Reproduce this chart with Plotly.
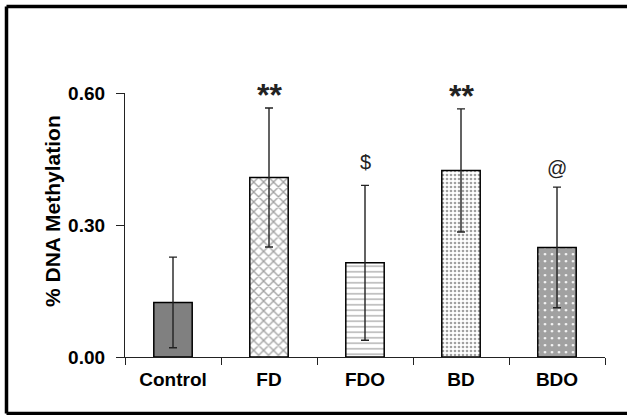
import plotly.graph_objects as go

categories = ["Control", "FD", "FDO", "BD", "BDO"]
means = [0.124, 0.408, 0.214, 0.424, 0.249]
errors = [0.103, 0.158, 0.176, 0.140, 0.137]
marks = ["", "**", "$", "**", "@"]
ytick_vals = [0.0, 0.3, 0.6]
ytick_text = ["0.00", "0.30", "0.60"]
y_title = "% DNA Methylation"

W, H = 627, 415
ML, MR, MT, MB = 125, 22, 93, 58

fig = go.Figure()
fig.add_trace(go.Bar(
    x=categories, y=means, width=0.4,
    error_y=dict(type="data", array=errors, visible=True, color="#222222",
                 thickness=1.4, width=4),
    marker=dict(
        color=["#808080", "white", "white", "white", "white"],
        line=dict(color="black", width=1.5),
        pattern=dict(
            shape=["", "x", "-", ".", "."],
            size=[8, 7, 5.5, 4, 7],
            solidity=[0.2, 0.35, 0.22, 0.35, 0.82],
            fgcolor="black",
            bgcolor=["#808080", "white", "white", "white", "white"],
        ),
    ),
    showlegend=False,
))

mark_style = {"**": dict(size=32, yshift=-7, weight="bold"),
              "$": dict(size=20, yshift=10, weight="normal"),
              "@": dict(size=20, yshift=6, weight="normal")}
for c, m, e, t in zip(categories, means, errors, marks):
    if not t:
        continue
    st = mark_style[t]
    fig.add_annotation(x=c, y=m + e, text=t, showarrow=False, yanchor="bottom",
                       yshift=st["yshift"],
                       font=dict(family="Liberation Sans", size=st["size"],
                                 weight=st["weight"], color="#222222"))

pw = W - ML - MR
ph = H - MT - MB
def px_to_paper_x(px):
    return (px - ML) / pw
def px_to_paper_y(py):
    return (H - MB - py) / ph

# y-axis title placed as rotated annotation
fig.add_annotation(xref="paper", yref="paper", x=px_to_paper_x(52), y=px_to_paper_y(211),
                   text=y_title, textangle=-90, showarrow=False,
                   xanchor="center", yanchor="middle",
                   font=dict(family="Liberation Sans", size=21, weight="bold", color="black"))

# outer frame: left, top, bottom edges
frame = dict(xref="paper", yref="paper", line=dict(color="black", width=3.5), layer="above")
xl, xr = px_to_paper_x(6.5), px_to_paper_x(W + 5)
yt, yb = px_to_paper_y(6.5), px_to_paper_y(413.5)
fig.add_shape(type="line", x0=xl, x1=xl, y0=yb, y1=yt, **frame)
fig.add_shape(type="line", x0=xl, x1=xr, y0=yt, y1=yt, **frame)
fig.add_shape(type="line", x0=xl, x1=xr, y0=yb, y1=yb, **frame)

fig.update_layout(
    width=W, height=H,
    margin=dict(l=ML, r=MR, t=MT, b=MB),
    paper_bgcolor="white", plot_bgcolor="white",
    font=dict(family="Liberation Sans", color="black"),
)
fig.update_xaxes(
    range=[-0.5, 4.5], showline=True, linecolor="#222222", linewidth=1.3,
    ticks="outside", tickson="boundaries", ticklen=7, tickcolor="#222222", tickwidth=1.3,
    tickfont=dict(size=19, weight="bold", family="Liberation Sans"),
    ticklabelstandoff=5,
    showgrid=False, zeroline=False,
)
fig.update_yaxes(
    range=[0, 0.6], tickvals=ytick_vals, ticktext=ytick_text,
    showline=True, linecolor="#222222", linewidth=1.3,
    ticks="outside", ticklen=8, tickcolor="#222222", tickwidth=1.3,
    tickfont=dict(size=19, weight="bold", family="Liberation Sans"),
    ticklabelstandoff=7,
    showgrid=False, zeroline=False,
)

fig.write_html("out.html", config={"displayModeBar": False},
               post_script="document.body.style.margin='0';document.body.style.overflow='hidden';")
